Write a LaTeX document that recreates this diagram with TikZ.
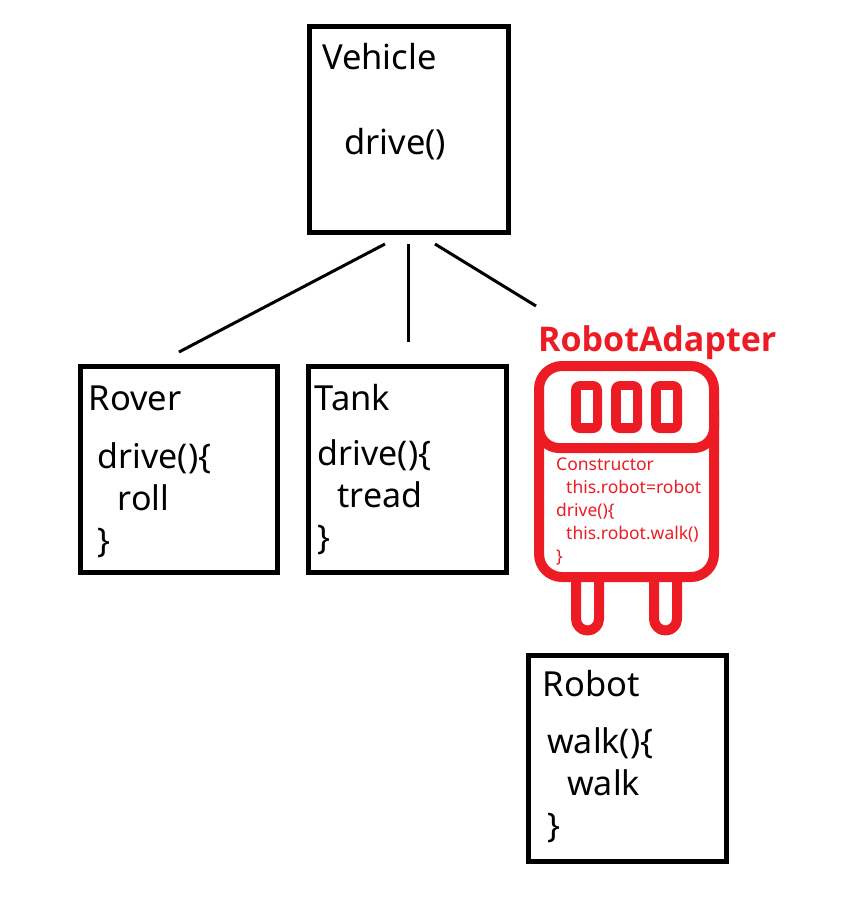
\documentclass[tikz,border=0pt]{standalone}
\usepackage{fontspec}
\setmainfont{Noto Sans}
\newfontfamily\adbold{Open Sans}
\definecolor{adred}{HTML}{ED1C24}
\tikzset{
  cls/.style={draw=black,line width=5pt,fill=white,inner sep=0pt,anchor=north west},
  link/.style={draw=black,line width=3pt},
  title/.style={anchor=base west,inner sep=0pt,font=\fontsize{34.5}{42}\selectfont},
  code/.style={anchor=north west,inner sep=0pt,align=left,font=\fontsize{34}{42}\selectfont},
  small/.style={anchor=north west,inner sep=0pt,align=left,text=adred,font=\fontsize{17.5}{23}\selectfont},
  adline/.style={draw=adred,line width=10pt,line join=round},
  slotout/.style={fill=adred,rounded corners=9pt},
  slotin/.style={fill=white},
}
\begin{document}
\begin{tikzpicture}[x=1pt,y=-1pt]
\useasboundingbox[fill=white] (0,0) rectangle (866,898);
% class boxes
\node[cls,minimum width=198.5pt,minimum height=206pt] (vehicle) at (307,23.5) {};
\node[cls,minimum width=197.5pt,minimum height=205.5pt] (rover) at (77.5,364) {};
\node[cls,minimum width=198pt,minimum height=205.5pt] (tank) at (305.5,364) {};
\node[cls,minimum width=198pt,minimum height=205.5pt] (robot) at (525.5,653) {};
% labels
\node[title] (vehicleT) at (322,69) {Vehicle};
\node[title] (vehicleM) at (344,154) {drive()};
\node[title] (roverT) at (88.5,410) {Rover};
\node[code] (roverC) at (97.5,442) {drive()\{\\\hspace*{20pt}roll\\\}};
\node[title] (tankT) at (314.5,410) {Tank};
\node[code] (tankC) at (317.5,439) {drive()\{\\\hspace*{20pt}tread\\\}};
\node[title] (robotT) at (542.5,696) {Robot};
\node[code] (robotC) at (547,727) {walk()\{\\\hspace*{20pt}walk\\\}};
% connectors (with free ends)
\coordinate (v1) at (385,244); \coordinate (r1) at (179,352);
\coordinate (v2) at (408,244); \coordinate (t1) at (408,342);
\coordinate (v3) at (435,244); \coordinate (a1) at (536,306);
\draw[link] (v1) -- (r1);
\draw[link] (v2) -- (t1);
\draw[link] (v3) -- (a1);
% adapter legs
\draw[adline,fill=white] (576,577) -- (576,619) arc[start angle=180,end angle=0,x radius=11.5pt,y radius=-11.5pt] -- (599,577);
\draw[adline,fill=white] (654,577) -- (654,619) arc[start angle=180,end angle=0,x radius=11.5pt,y radius=-11.5pt] -- (677,577);
% adapter body
\draw[adline,fill=white,rounded corners=23pt] (539,366) rectangle (714,577);
\draw[adline,rounded corners=20pt] (539,410) -- (539,448) -- (714,448) -- (714,410);
% adapter slots
\fill[slotout] (571,381) rectangle (602,433);
\fill[slotin] (580.5,390) rectangle (592.5,423);
\fill[slotout] (611,381) rectangle (642,433);
\fill[slotin] (620.5,390) rectangle (632.5,423);
\fill[slotout] (651,381) rectangle (682,433);
\fill[slotin] (660.5,390) rectangle (672.5,423);
% adapter text
\node[anchor=base west,inner sep=0pt,text=adred,font=\fontsize{34}{40}\selectfont\adbold\bfseries] (adT) at (538,351) {RobotAdapter};
\node[small] (adC) at (556,458) {Constructor\\\hspace*{10pt}this.robot=robot\\drive()\{\\\hspace*{10pt}this.robot.walk()\\\}};
\end{tikzpicture}
\end{document}
